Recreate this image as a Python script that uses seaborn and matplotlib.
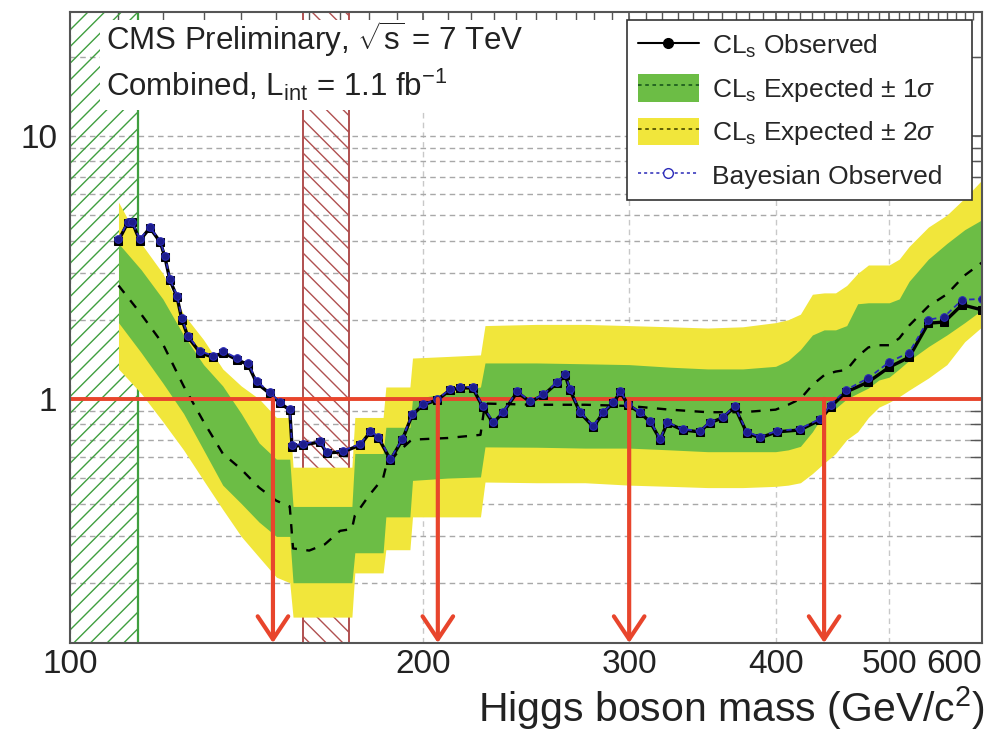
import matplotlib
matplotlib.use("Agg")
import matplotlib.pyplot as plt
import seaborn as sns
import pandas as pd
from matplotlib.patches import Patch, Rectangle
from matplotlib.lines import Line2D
from matplotlib.ticker import FixedLocator, NullFormatter, FixedFormatter

# ---------------- data ----------------
mass_exp = [110, 115, 120, 125, 130, 135, 140, 145, 150, 154, 155, 160, 165, 170, 174,
            175, 180, 185, 186, 190, 195, 196, 210, 224, 226, 250, 275, 300, 325, 350,
            375, 400, 410, 420, 430, 440, 450, 460, 470, 480, 490, 500, 510, 520, 540,
            560, 580, 600]
exp_median = [2.70, 2.10, 1.62, 1.12, 0.82, 0.62, 0.54, 0.46, 0.41, 0.39, 0.27, 0.265, 0.28, 0.315, 0.32,
              0.36, 0.43, 0.50, 0.55, 0.62, 0.69, 0.70, 0.71, 0.73, 0.96, 0.95, 0.95, 0.94, 0.91, 0.89,
              0.89, 0.91, 0.95, 1.00, 1.13, 1.23, 1.27, 1.29, 1.45, 1.57, 1.60, 1.60, 1.70, 1.90, 2.25,
              2.50, 2.95, 3.30]
exp_minus1 = [1.95, 1.50, 1.15, 0.88, 0.64, 0.47, 0.40, 0.34, 0.30, 0.30, 0.20, 0.20, 0.20, 0.20, 0.20,
              0.26, 0.26, 0.26, 0.356, 0.356, 0.356, 0.49, 0.50, 0.505, 0.657, 0.655, 0.65, 0.65, 0.64, 0.63,
              0.63, 0.63, 0.64, 0.66, 0.75, 0.88, 0.92, 1.00, 1.05, 1.10, 1.18, 1.21, 1.30, 1.40, 1.58,
              1.75, 1.95, 2.18]
exp_plus1 = [3.90, 3.10, 2.40, 1.75, 1.35, 1.12, 0.88, 0.68, 0.59, 0.59, 0.39, 0.39, 0.39, 0.39, 0.39,
             0.62, 0.62, 0.62, 0.78, 0.78, 0.78, 1.00, 1.05, 1.11, 1.37, 1.37, 1.36, 1.35, 1.32, 1.30,
             1.30, 1.33, 1.40, 1.54, 1.75, 1.83, 1.83, 1.90, 2.30, 2.32, 2.32, 2.32, 2.40, 2.80, 3.40,
             3.90, 4.40, 4.80]
exp_minus2 = [1.30, 1.05, 0.82, 0.64, 0.49, 0.38, 0.30, 0.25, 0.21, 0.20, 0.148, 0.148, 0.148, 0.148, 0.148,
              0.218, 0.218, 0.218, 0.267, 0.267, 0.267, 0.356, 0.356, 0.356, 0.483, 0.48, 0.48, 0.47, 0.465, 0.46,
              0.46, 0.465, 0.47, 0.48, 0.52, 0.57, 0.62, 0.70, 0.75, 0.85, 0.93, 0.97, 1.02, 1.08, 1.20,
              1.35, 1.65, 1.88]
exp_plus2 = [5.60, 3.90, 3.00, 2.10, 1.68, 1.30, 1.12, 1.00, 0.85, 0.85, 0.55, 0.55, 0.55, 0.55, 0.55,
             0.85, 0.85, 0.85, 1.11, 1.11, 1.11, 1.43, 1.45, 1.47, 1.90, 1.92, 1.92, 1.90, 1.88, 1.86,
             1.88, 1.95, 2.00, 2.10, 2.50, 2.53, 2.53, 2.70, 3.00, 3.23, 3.23, 3.23, 3.40, 3.80, 4.50,
             5.00, 5.80, 6.80]

mass_obs = [110, 112, 113, 114.7, 117, 119.4, 120.5, 121.7, 123.4, 124.6, 126.1, 129.1, 132.4, 135.1,
            138.8, 141.9, 144.3, 148, 151, 154, 154.7, 158, 163.4, 165.6, 171, 176.9, 180.4, 183.3,
            187.7, 192.1, 195.9, 200.1, 205.7, 211, 215, 220.6, 225, 229.6, 234.1, 240.7, 247, 253.5,
            260.5, 264.6, 267.1, 272.5, 279.6, 285.1, 290.7, 294.8, 299.5, 306.5, 312.6, 318.9, 323.3,
            333.4, 344.5, 351.3, 360.5, 369.1, 378, 387.8, 401, 419.6, 436.6, 445.6, 459, 480, 500,
            520, 540, 557, 577, 600]
cls_observed = [4.00, 4.67, 4.70, 4.00, 4.47, 3.95, 3.46, 2.83, 2.44, 2.00, 1.72, 1.50, 1.44, 1.50,
                1.41, 1.35, 1.15, 1.05, 0.965, 0.908, 0.657, 0.668, 0.686, 0.623, 0.629, 0.668, 0.749, 0.711,
                0.586, 0.699, 0.869, 0.949, 0.99, 1.08, 1.10, 1.10, 0.932, 0.81, 0.885, 1.06, 0.974, 1.035,
                1.15, 1.23, 1.08, 0.885, 0.783, 0.885, 0.965, 1.06, 0.949, 0.885, 0.818, 0.699, 0.81,
                0.762, 0.749, 0.81, 0.847, 0.932, 0.743, 0.711, 0.749, 0.762, 0.832, 0.932, 1.06, 1.16, 1.32,
                1.44, 1.94, 1.96, 2.28, 2.18]
bayes_observed = [4.05, 4.70, 4.72, 4.05, 4.50, 3.98, 3.50, 2.86, 2.47, 2.03, 1.74, 1.52, 1.46, 1.52,
                  1.43, 1.37, 1.17, 1.06, 0.975, 0.915, 0.665, 0.675, 0.692, 0.63, 0.636, 0.675, 0.755, 0.718,
                  0.592, 0.705, 0.875, 0.955, 0.995, 1.09, 1.11, 1.11, 0.94, 0.82, 0.89, 1.07, 0.98, 1.04,
                  1.16, 1.24, 1.09, 0.89, 0.79, 0.89, 0.97, 1.07, 0.955, 0.89, 0.825, 0.705, 0.815,
                  0.768, 0.755, 0.815, 0.852, 0.938, 0.75, 0.718, 0.755, 0.77, 0.84, 0.95, 1.08, 1.20, 1.38,
                  1.50, 2.00, 2.05, 2.38, 2.40]

excl_arrow_mass = [149, 206, 300, 440]
lep_excl = [100, 114.4]
tev_excl = [158, 173]
x_ticks = [100, 200, 300, 400, 500, 600]
x_minor = [m for m in range(110, 600, 10) if m % 100 != 0]
y_ticks = [1, 10]
y_minor = [0.2, 0.3, 0.4, 0.5, 0.6, 0.7, 0.8, 0.9, 2, 3, 4, 5, 6, 7, 8, 9, 20]
legend_labels = [r"CL$_{\mathrm{s}}$ Observed", r"CL$_{\mathrm{s}}$ Expected $\pm$ 1$\sigma$",
                 r"CL$_{\mathrm{s}}$ Expected $\pm$ 2$\sigma$", "Bayesian Observed"]

# ---------------- style ----------------
sns.set_theme(style="white")
plt.rcParams["font.family"] = ["Liberation Sans", "DejaVu Sans"]
plt.rcParams["mathtext.fontset"] = "custom"
plt.rcParams["mathtext.rm"] = "Liberation Sans"
plt.rcParams["mathtext.it"] = "Liberation Sans:italic"
plt.rcParams["mathtext.sf"] = "Liberation Sans"
plt.rcParams["hatch.linewidth"] = 1.0

YELLOW = "#f1e63b"
GREEN = "#6cbd45"
RED = "#e8452c"
FRAME = "#555555"
TXT = "#222222"

fig = plt.figure(figsize=(9.94, 7.34), dpi=100)
ax = fig.add_axes([0.0704, 0.1240, 0.9175, 0.8597])
ax.set_xscale("log")
ax.set_yscale("log")
ax.set_xlim(100, 600)
ax.set_ylim(0.118, 29.6)

# grid
ax.yaxis.grid(True, which="both", color="#a8a8a8", linestyle=(0, (4, 3)), linewidth=1.0, zorder=0)
ax.xaxis.grid(True, which="major", color="#c8c8c8", linestyle=(0, (4, 3)), linewidth=1.0, zorder=0)
ax.set_axisbelow(True)

# excluded regions (hatched)
ax.axvspan(lep_excl[0], lep_excl[1], facecolor="none", edgecolor="#3f9f3f", hatch="//", linewidth=0, zorder=1)
ax.axvline(lep_excl[1], color="#3f9f3f", lw=1.6, zorder=1)
ax.axvspan(tev_excl[0], tev_excl[1], facecolor="none", edgecolor="#b05050", hatch="\\\\", linewidth=0, zorder=1)
ax.axvline(tev_excl[0], color="#b05050", lw=1.4, zorder=1)
ax.axvline(tev_excl[1], color="#b05050", lw=1.4, zorder=1)

# bands
ax.fill_between(mass_exp, exp_minus2, exp_plus2, color=YELLOW, linewidth=0, zorder=2)
ax.fill_between(mass_exp, exp_minus1, exp_plus1, color=GREEN, linewidth=0, zorder=2.1)

df_exp = pd.DataFrame({"mass": mass_exp, "limit": exp_median})
sns.lineplot(data=df_exp, x="mass", y="limit", ax=ax, color="black", linestyle=(0, (4, 4)),
             linewidth=1.7, estimator=None, sort=False, zorder=3, legend=False)

# limit = 1 line
ax.axhline(1.0, color=RED, lw=2.8, zorder=3.5)

# observed
df_obs = pd.DataFrame({"mass": mass_obs, "cls": cls_observed, "bayes": bayes_observed})
sns.lineplot(data=df_obs, x="mass", y="cls", ax=ax, color="black", linewidth=2.4, marker="s",
             markersize=6, markeredgecolor="black", estimator=None, sort=False, zorder=4, legend=False)
sns.lineplot(data=df_obs, x="mass", y="bayes", ax=ax, color="#2a2ab8", linewidth=1.3,
             linestyle=(0, (3, 2)), marker="o", markersize=5.5, markerfacecolor="#1c1c8a",
             markeredgecolor="#2a2ab8", estimator=None, sort=False, zorder=4.2, legend=False)

# exclusion arrows
for m in excl_arrow_mass:
    ax.annotate("", xy=(m, 0), xycoords=("data", "axes fraction"), xytext=(m, 1.0),
                textcoords="data",
                arrowprops=dict(arrowstyle="->,head_length=0.75,head_width=0.5", color=RED, lw=3.0,
                                shrinkA=0, shrinkB=0, mutation_scale=22),
                zorder=5)

# ticks
ax.xaxis.set_major_locator(FixedLocator(x_ticks))
ax.xaxis.set_major_formatter(FixedFormatter([str(t) for t in x_ticks]))
ax.xaxis.set_minor_locator(FixedLocator(x_minor))
ax.xaxis.set_minor_formatter(NullFormatter())
ax.yaxis.set_major_locator(FixedLocator(y_ticks))
ax.yaxis.set_major_formatter(FixedFormatter([str(t) for t in y_ticks]))
ax.yaxis.set_minor_locator(FixedLocator(y_minor))
ax.yaxis.set_minor_formatter(NullFormatter())
ax.tick_params(axis="both", which="both", direction="in", top=True, right=True, colors=FRAME,
               labelcolor=TXT, labelsize=24)
ax.tick_params(axis="x", which="major", length=11, width=1.2, pad=4)
ax.tick_params(axis="x", which="minor", length=6, width=1.0)
ax.tick_params(axis="y", which="major", length=19, width=1.2, pad=9)
ax.tick_params(axis="y", which="minor", length=9, width=1.0)
ax.set_xlabel("")
ax.set_ylabel("")
for s in ax.spines.values():
    s.set_color(FRAME)
    s.set_linewidth(1.5)
    s.set_zorder(8)
# keep the last tick label inside the picture
xlabels = ax.get_xticklabels()
xlabels[-1].set_horizontalalignment("right")

# white box behind header text
ax.add_patch(Rectangle((0.033, 0.845), 0.579, 0.142, transform=ax.transAxes,
                       facecolor="white", edgecolor="none", zorder=6))
ax.text(0.040, 0.957, r"CMS Preliminary, $\sqrt{\mathrm{s}}$ = 7 TeV", transform=ax.transAxes,
        fontsize=22.5, color=TXT, va="center", ha="left", zorder=7)
ax.text(0.040, 0.885, r"Combined, L$_{\mathrm{int}}$ = 1.1 fb$^{\mathrm{-1}}$", transform=ax.transAxes,
        fontsize=22.5, color=TXT, va="center", ha="left", zorder=7)

# legend
h_obs = Line2D([], [], color="black", lw=1.5, marker="o", markersize=7)
h_1s = (Patch(facecolor=GREEN, edgecolor="none"), Line2D([], [], color="#1f5f1f", lw=1.3, linestyle=(0, (2, 2))))
h_2s = (Patch(facecolor=YELLOW, edgecolor="none"), Line2D([], [], color="#555500", lw=1.3, linestyle=(0, (2, 2))))
h_bay = Line2D([], [], color="#2a2ab8", lw=1.1, linestyle=(0, (2, 2)), marker="o", markersize=7,
               markerfacecolor="white", markeredgecolor="#2a2ab8")
leg = ax.legend([h_obs, h_1s, h_2s, h_bay], legend_labels,
                loc="upper left", bbox_to_anchor=(0.6107, 0.70, 0.3783, 0.287), mode="expand",
                borderaxespad=0, fontsize=19, frameon=True, fancybox=False, framealpha=1,
                edgecolor="#333333", handlelength=2.3, handleheight=1.25, handletextpad=0.5,
                labelspacing=0.52, borderpad=0.42)
leg.get_frame().set_linewidth(1.2)
leg.set_zorder(10)

fig.text(0.991, 0.003, r"Higgs boson mass (GeV/c$^{2}$)", ha="right", va="bottom", fontsize=29.5,
         color=TXT)

fig.savefig("out.png", dpi=100)
